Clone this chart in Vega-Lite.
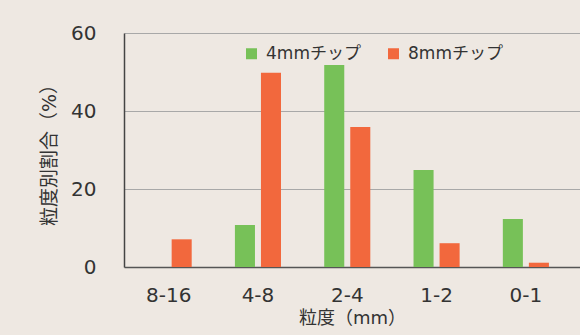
{
  "$schema": "https://vega.github.io/schema/vega-lite/v6.json",
  "width": 456,
  "height": 234,
  "autosize": {"type": "none"},
  "padding": {"left": 124, "top": 33, "right": 0, "bottom": 68},
  "background": "#EEE8E2",
  "config": {
    "font": "DejaVu Sans, Noto Sans CJK JP",
    "view": {"stroke": null},
    "axis": {"labelColor": "#333333", "titleColor": "#333333", "labelFont": "DejaVu Sans, Noto Sans CJK JP", "titleFont": "DejaVu Sans, Noto Sans CJK JP", "titleFontWeight": "normal", "labelFontWeight": "normal"}
  },
  "data": {
    "values": [
      {"size": "8-16", "chip": "4mmチップ", "value": 0},
      {"size": "4-8", "chip": "4mmチップ", "value": 10.8},
      {"size": "2-4", "chip": "4mmチップ", "value": 51.8},
      {"size": "1-2", "chip": "4mmチップ", "value": 24.9},
      {"size": "0-1", "chip": "4mmチップ", "value": 12.3},
      {"size": "8-16", "chip": "8mmチップ", "value": 7.1},
      {"size": "4-8", "chip": "8mmチップ", "value": 49.8},
      {"size": "2-4", "chip": "8mmチップ", "value": 35.9},
      {"size": "1-2", "chip": "8mmチップ", "value": 6.1},
      {"size": "0-1", "chip": "8mmチップ", "value": 1.1}
    ]
  },
  "mark": {"type": "bar"},
  "encoding": {
    "x": {
      "field": "size",
      "type": "nominal",
      "sort": ["8-16", "4-8", "2-4", "1-2", "0-1"],
      "scale": {"paddingInner": 0, "paddingOuter": 0.053, "align": 0},
      "axis": {
        "title": "粒度（mm）",
        "titleFontSize": 18,
        "titlePadding": 4,
        "labelFontSize": 20,
        "labelAngle": 0,
        "labelPadding": 18,
        "ticks": false,
        "domain": false,
        "grid": false
      }
    },
    "xOffset": {
      "field": "chip",
      "type": "nominal",
      "scale": {"paddingInner": 0.23, "paddingOuter": 0.83}
    },
    "y": {
      "field": "value",
      "type": "quantitative",
      "scale": {"domain": [0, 60], "nice": false},
      "axis": {
        "title": "粒度別割合（%）",
        "titleFontSize": 19,
        "titlePadding": 11,
        "values": [0, 20, 40, 60],
        "labelFontSize": 20,
        "labelPadding": 28,
        "ticks": false,
        "domain": true,
        "domainColor": "#444444",
        "domainWidth": 1.5,
        "grid": true,
        "gridColor": {"condition": {"test": "datum.value === 0", "value": "#555555"}, "value": "#A8A8A8"},
        "gridWidth": {"condition": {"test": "datum.value === 0", "value": 1.5}, "value": 1},
        "gridOpacity": 1
      }
    },
    "color": {
      "field": "chip",
      "type": "nominal",
      "scale": {"domain": ["4mmチップ", "8mmチップ"], "range": ["#77C158", "#F2683D"]},
      "legend": {
        "title": null,
        "orient": "none",
        "direction": "horizontal",
        "legendX": 119,
        "legendY": 12,
        "padding": 0,
        "symbolType": "square",
        "symbolSize": 121,
        "symbolStrokeWidth": 0,
        "symbolOpacity": 1,
        "labelFont": "DejaVu Sans, Noto Sans CJK JP",
        "labelFontSize": 17,
        "labelFontWeight": "normal",
        "labelColor": "#333333",
        "labelOffset": 6,
        "columnPadding": 24
      }
    }
  }
}
